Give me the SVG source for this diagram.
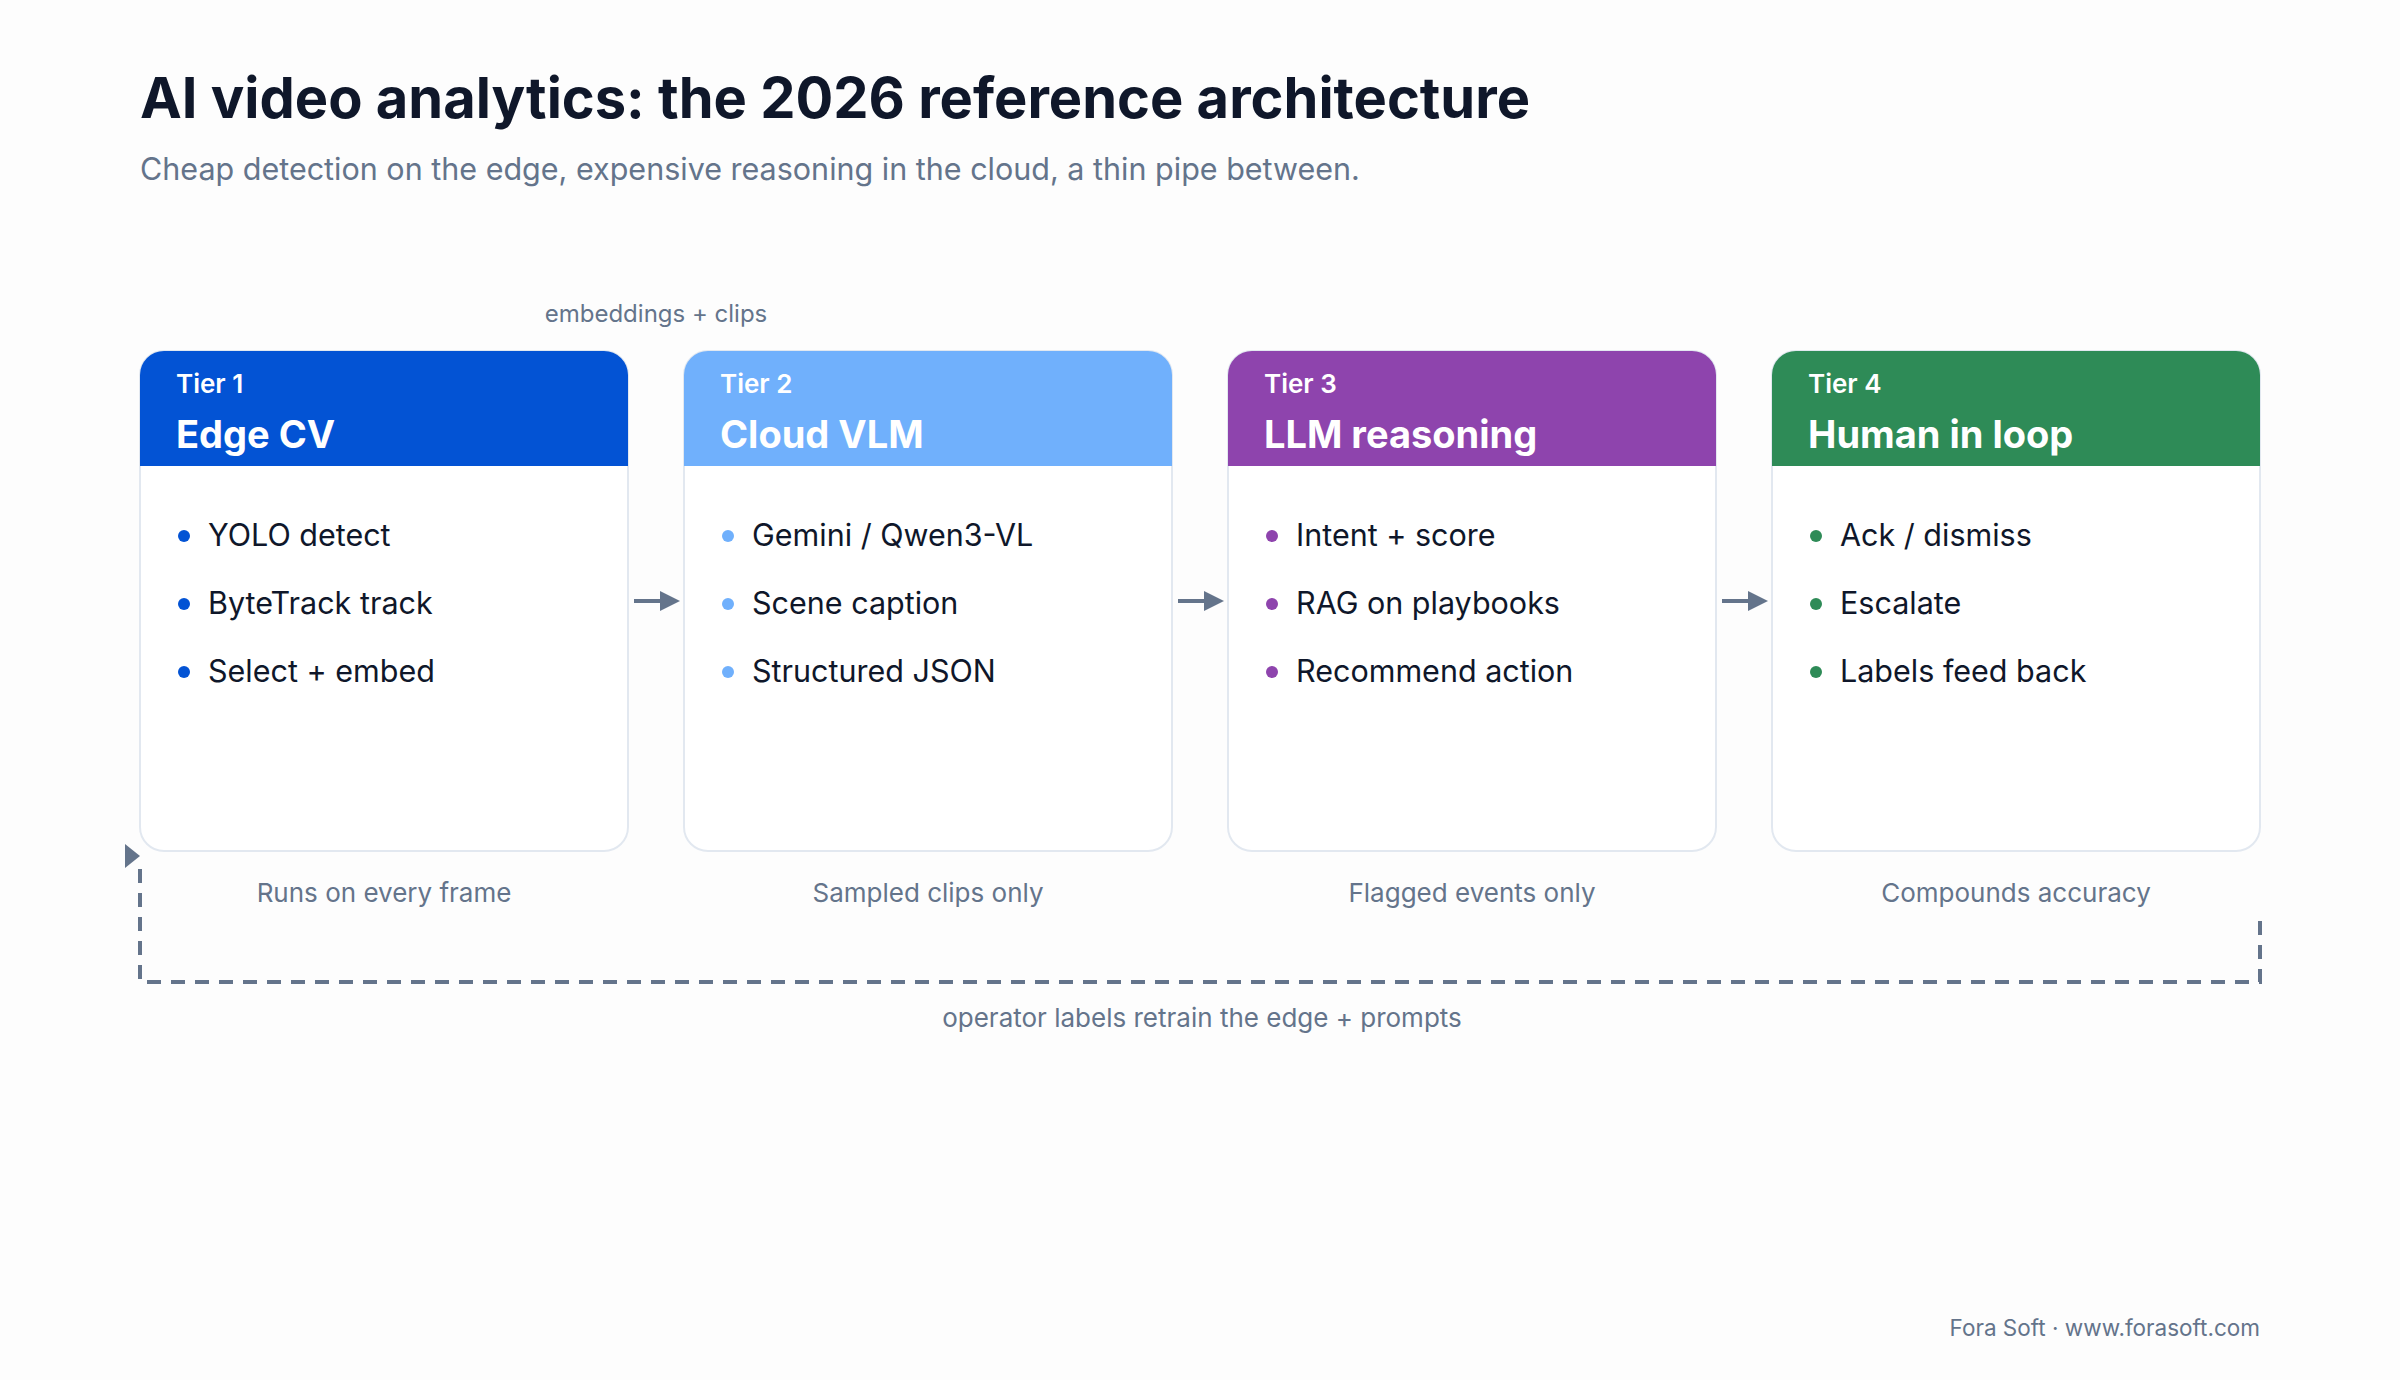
<svg xmlns="http://www.w3.org/2000/svg" width="2400" height="1380" viewBox="0 0 2400 1380">
<style>
text{font-family:Inter,"Liberation Sans",sans-serif}
.title{font-size:56px;font-weight:700;fill:#0f172a}
.sub{font-size:30.5px;fill:#64748b}
.tier{font-size:26px;font-weight:600;fill:#fff}
.name{font-size:38px;font-weight:700;fill:#fff}
.item{font-size:30.5px;fill:#0f172a}
.cap{font-size:26px;fill:#64748b;text-anchor:middle}
.small{font-size:24px;fill:#64748b}
.card{fill:#fff;stroke:#e2e8f0;stroke-width:2}
.conn{stroke:#64748b;stroke-width:4;fill:none}
</style>
<defs>
<marker id="ah" markerWidth="5" markerHeight="5" refX="3.5" refY="2.5" orient="auto"><path d="M0,0 L5,2.5 L0,5 Z" fill="#64748b"/></marker>
</defs>
<rect width="2400" height="1380" fill="#fdfdfd"/>
<text class="title" x="140" y="118">AI video analytics: the 2026 reference architecture</text>
<text class="sub" x="140" y="180">Cheap detection on the edge, expensive reasoning in the cloud, a thin pipe between.</text>
<text class="small" x="656" y="322" text-anchor="middle">embeddings + clips</text>

<g id="tier1">
<rect class="card" x="140" y="351" width="488" height="500" rx="24"/>
<path d="M140,466 V375 A24,24 0 0 1 164,351 H604 A24,24 0 0 1 628,375 V466 Z" fill="#0353d4"/>
<text class="tier" x="176" y="393">Tier 1</text><text class="name" x="176" y="448">Edge CV</text>
<g fill="#0353d4"><circle cx="184" cy="536" r="6"/><circle cx="184" cy="604" r="6"/><circle cx="184" cy="672" r="6"/></g>
<text class="item" x="208" y="546">YOLO detect</text><text class="item" x="208" y="614">ByteTrack track</text><text class="item" x="208" y="682">Select + embed</text>
<text class="cap" x="384" y="902">Runs on every frame</text>
</g>
<g id="tier2">
<rect class="card" x="684" y="351" width="488" height="500" rx="24"/>
<path d="M684,466 V375 A24,24 0 0 1 708,351 H1148 A24,24 0 0 1 1172,375 V466 Z" fill="#70b0fc"/>
<text class="tier" x="720" y="393">Tier 2</text><text class="name" x="720" y="448">Cloud VLM</text>
<g fill="#70b0fc"><circle cx="728" cy="536" r="6"/><circle cx="728" cy="604" r="6"/><circle cx="728" cy="672" r="6"/></g>
<text class="item" x="752" y="546">Gemini / Qwen3-VL</text><text class="item" x="752" y="614">Scene caption</text><text class="item" x="752" y="682">Structured JSON</text>
<text class="cap" x="928" y="902">Sampled clips only</text>
</g>
<g id="tier3">
<rect class="card" x="1228" y="351" width="488" height="500" rx="24"/>
<path d="M1228,466 V375 A24,24 0 0 1 1252,351 H1692 A24,24 0 0 1 1716,375 V466 Z" fill="#8e44ad"/>
<text class="tier" x="1264" y="393">Tier 3</text><text class="name" x="1264" y="448">LLM reasoning</text>
<g fill="#8e44ad"><circle cx="1272" cy="536" r="6"/><circle cx="1272" cy="604" r="6"/><circle cx="1272" cy="672" r="6"/></g>
<text class="item" x="1296" y="546">Intent + score</text><text class="item" x="1296" y="614">RAG on playbooks</text><text class="item" x="1296" y="682">Recommend action</text>
<text class="cap" x="1472" y="902">Flagged events only</text>
</g>
<g id="tier4">
<rect class="card" x="1772" y="351" width="488" height="500" rx="24"/>
<path d="M1772,466 V375 A24,24 0 0 1 1796,351 H2236 A24,24 0 0 1 2260,375 V466 Z" fill="#2e8b57"/>
<text class="tier" x="1808" y="393">Tier 4</text><text class="name" x="1808" y="448">Human in loop</text>
<g fill="#2e8b57"><circle cx="1816" cy="536" r="6"/><circle cx="1816" cy="604" r="6"/><circle cx="1816" cy="672" r="6"/></g>
<text class="item" x="1840" y="546">Ack / dismiss</text><text class="item" x="1840" y="614">Escalate</text><text class="item" x="1840" y="682">Labels feed back</text>
<text class="cap" x="2016" y="902">Compounds accuracy</text>
</g>

<g id="connectors">
<path class="conn" d="M634,601 H674" marker-end="url(#ah)"/>
<path class="conn" d="M1178,601 H1218" marker-end="url(#ah)"/>
<path class="conn" d="M1722,601 H1762" marker-end="url(#ah)"/>
<path class="conn" d="M2260,921 V982 H140 V864" stroke-dasharray="14 10"/>
<polygon points="125,844 140,856 125,868" fill="#64748b"/>
</g>
<text class="cap" x="1202" y="1027">operator labels retrain the edge + prompts</text>
<text class="small" x="2260" y="1336" text-anchor="end" style="font-size:22.5px">Fora Soft · www.forasoft.com</text>
</svg>
